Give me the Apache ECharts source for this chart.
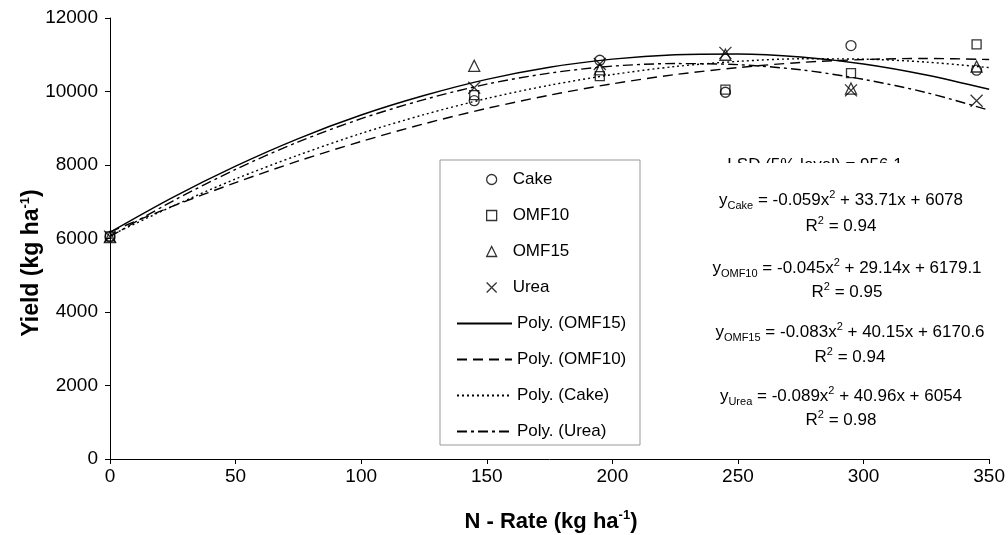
<!DOCTYPE html>
<html>
<head>
<meta charset="utf-8">
<title>Yield vs N-Rate</title>
<script src="https://cdn.jsdelivr.net/npm/echarts@6/dist/echarts.min.js"></script>
<style>
  html, body { margin: 0; padding: 0; background: #fff; }
  #chart { width: 1008px; height: 535px; }
</style>
</head>
<body>
<div id="chart"></div>
<script>
// measured points (kg/ha) at each N rate
const nRates = [0, 145, 195, 245, 295, 345]
const cake = [6050, 9750, 10850, 9980, 11250, 10580]
const omf10 = [6060, 9900, 10420, 10050, 10500, 11280]
const omf15 = [6040, 10700, 10600, 11000, 10080, 10680]
const urea = [6050, 10100, 10750, 11050, 10030, 9750]

// trend lines every 25 kg/ha
const trendX = [0, 25, 50, 75, 100, 125, 150, 175, 200, 225, 250, 275, 300, 325, 350]
const polyOmf15 = [6170, 7120, 7970, 8720, 9360, 9890, 10330, 10660, 10880, 11000, 11020, 10940, 10750, 10450, 10060]
const polyOmf10 = [6180, 6880, 7520, 8110, 8640, 9120, 9540, 9900, 10210, 10460, 10650, 10790, 10870, 10900, 10870]
const polyCake = [6080, 6880, 7620, 8270, 8860, 9370, 9810, 10170, 10460, 10680, 10820, 10890, 10880, 10800, 10650]
const polyUrea = [6050, 7020, 7880, 8630, 9260, 9780, 10200, 10500, 10690, 10760, 10730, 10590, 10330, 9970, 9490]

const xTicks = [0, 350, 50]
const yTicks = [0, 12000, 2000]

const equations = [
  ['Cake', '-0.059', '33.71x + 6078', '0.94'],
  ['OMF10', '-0.045', '29.14x + 6179.1', '0.95'],
  ['OMF15', '-0.083', '40.15x + 6170.6', '0.94'],
  ['Urea', '-0.089', '40.96x + 6054', '0.98']
]

const FONT = 'Liberation Sans, Arial, sans-serif'
const pairs = (xs, ys) => xs.map((x, i) => [x, ys[i]])

const chart = echarts.init(document.getElementById('chart'))

const markStyle = { color: 'transparent', borderColor: '#000', borderWidth: 1.3 }
const scatter = (name, symbol, size, ys) => ({
  name, type: 'scatter', symbol, symbolSize: size,
  data: pairs(nRates, ys), itemStyle: markStyle, z: 5
})
const trend = (name, type, ys) => ({
  name, type: 'line', symbol: 'none', smooth: 0.3,
  data: pairs(trendX, ys),
  lineStyle: { color: '#000', width: 1.4, type },
  itemStyle: { color: '#000' }
})

const rich = {
  m: { fontSize: 17, fontFamily: FONT, color: '#000', lineHeight: 22 },
  sub: { fontSize: 11, fontFamily: FONT, color: '#000', verticalAlign: 'bottom', lineHeight: 13 },
  sup: { fontSize: 11, fontFamily: FONT, color: '#000', verticalAlign: 'top', lineHeight: 13 }
}
const eqPos = [[841, 200, 226], [847, 268, 292], [850, 332, 357], [841, 396, 420]]
const eqGraphics = []
equations.forEach((e, i) => {
  const p = eqPos[i]
  eqGraphics.push({
    type: 'text', x: p[0], y: p[1], z: 20,
    style: {
      text: '{m|y}{sub|' + e[0] + '}{m| = ' + e[1] + 'x}{sup|2}{m| + ' + e[2] + '}',
      rich, align: 'center', verticalAlign: 'middle', textAlign: 'center', textVerticalAlign: 'middle'
    }
  })
  eqGraphics.push({
    type: 'text', x: p[0], y: p[2], z: 20,
    style: {
      text: '{m|R}{sup|2}{m| = ' + e[3] + '}',
      rich, align: 'center', verticalAlign: 'middle', textAlign: 'center', textVerticalAlign: 'middle'
    }
  })
})

const tickLabel = { color: '#000', fontSize: 19, fontFamily: FONT, margin: 12, formatter: v => String(v) }

chart.setOption({
  animation: false,
  backgroundColor: '#fff',
  grid: { left: 110, right: 18, top: 18, bottom: 76 },
  xAxis: {
    type: 'value', min: xTicks[0], max: xTicks[1], interval: xTicks[2],
    splitLine: { show: false },
    axisLine: { lineStyle: { color: '#000', width: 1 } },
    axisTick: { lineStyle: { color: '#000' }, length: 5 },
    axisLabel: { ...tickLabel, margin: 8 }
  },
  yAxis: {
    type: 'value', min: yTicks[0], max: yTicks[1], interval: yTicks[2],
    splitLine: { show: false },
    axisLine: { show: true, lineStyle: { color: '#000', width: 1 } },
    axisTick: { show: true, lineStyle: { color: '#000' }, length: 5 },
    axisLabel: tickLabel
  },
  legend: [
    {
      data: ['Cake', 'OMF10', 'OMF15', 'Urea'],
      orient: 'vertical', left: 481, top: 166, z: 10,
      itemWidth: 10, itemHeight: 10, itemGap: 19,
      itemStyle: { borderWidth: 1.3 },
      textStyle: { color: '#000', fontSize: 17, fontFamily: FONT, lineHeight: 14, padding: [0, 0, 0, 11] }
    },
    {
      data: ['Poly. (OMF15)', 'Poly. (OMF10)', 'Poly. (Cake)', 'Poly. (Urea)'],
      orient: 'vertical', left: 451, top: 310, z: 10,
      itemWidth: 55, itemHeight: 14, itemGap: 19,
      itemStyle: { opacity: 0 },
      textStyle: { color: '#000', fontSize: 17, fontFamily: FONT, lineHeight: 14 }
    }
  ],
  graphic: [
    { type: 'rect', z: 3, shape: { x: 440, y: 160, width: 200, height: 285 }, style: { fill: '#fff', stroke: '#999', lineWidth: 1 } },
    {
      type: 'text', x: 815, y: 157, z: 15,
      style: { text: 'LSD (5% level) = 956.1', fontSize: 17, fontFamily: FONT, fill: '#000', align: 'center', verticalAlign: 'top', textAlign: 'center', textVerticalAlign: 'top' }
    },
    { type: 'rect', z: 16, shape: { x: 700, y: 163, width: 260, height: 14 }, style: { fill: '#fff' } },
    ...eqGraphics,
    {
      type: 'text', x: 551, y: 522, z: 20,
      style: {
        text: '{b|N - Rate (kg ha}{bs|-1}{b|)}',
        rich: {
          b: { fontSize: 22, fontWeight: 'bold', fontFamily: FONT, color: '#000', lineHeight: 26 },
          bs: { fontSize: 13, fontWeight: 'bold', fontFamily: FONT, color: '#000', verticalAlign: 'top', lineHeight: 15 }
        },
        align: 'center', verticalAlign: 'middle', textAlign: 'center', textVerticalAlign: 'middle'
      }
    },
    {
      type: 'text', x: 32, y: 263, z: 20, rotation: Math.PI / 2,
      style: {
        text: '{b|Yield (kg ha}{bs|-1}{b|)}',
        rich: {
          b: { fontSize: 23, fontWeight: 'bold', fontFamily: FONT, color: '#000', lineHeight: 26 },
          bs: { fontSize: 13, fontWeight: 'bold', fontFamily: FONT, color: '#000', verticalAlign: 'top', lineHeight: 15 }
        },
        align: 'center', verticalAlign: 'middle', textAlign: 'center', textVerticalAlign: 'middle'
      }
    }
  ],
  series: [
    scatter('Cake', 'circle', 10, cake),
    scatter('OMF10', 'rect', 9, omf10),
    scatter('OMF15', 'triangle', 11, omf15),
    scatter('Urea', 'path://M0,0L10,10M10,0L0,10', 12, urea),
    trend('Poly. (OMF15)', 'solid', polyOmf15),
    trend('Poly. (OMF10)', [10, 6], polyOmf10),
    trend('Poly. (Cake)', [2, 3], polyCake),
    trend('Poly. (Urea)', [10, 4, 3, 4], polyUrea)
  ]
})
</script>
</body>
</html>
